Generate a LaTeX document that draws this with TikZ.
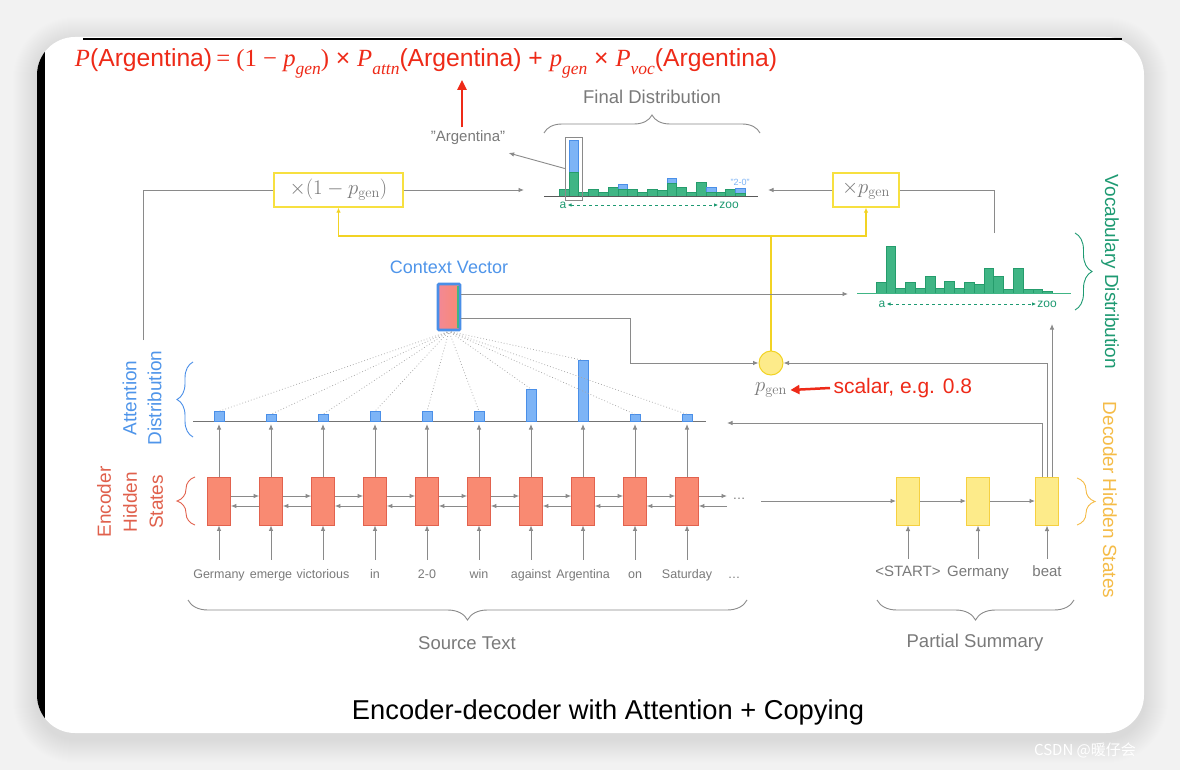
\documentclass[tikz,border=0pt]{standalone}
\usepackage[no-math]{fontspec}
\setmainfont{Liberation Sans}
\newfontfamily\tms{Liberation Serif}
\newfontfamily\cjkf{Noto Sans CJK SC}
\usetikzlibrary{arrows.meta,decorations.pathreplacing,calc}
\definecolor{bgc}{HTML}{F2F2F2}
\definecolor{lgray}{HTML}{8A8A8A}
\definecolor{tgray}{HTML}{7A7A7A}
\definecolor{cblue}{HTML}{4F95EA}
\definecolor{afill}{HTML}{7DB4F6}
\definecolor{abord}{HTML}{4A8FE8}
\definecolor{gfill}{HTML}{40B585}
\definecolor{gbord}{HTML}{259C6C}
\definecolor{gtext}{HTML}{1E9A72}
\definecolor{efill}{HTML}{F98A72}
\definecolor{ebord}{HTML}{E2624E}
\definecolor{etext}{HTML}{E0604C}
\definecolor{dfill}{HTML}{FDEB8A}
\definecolor{dbord}{HTML}{F6D040}
\definecolor{dtext}{HTML}{F5BC48}
\definecolor{yb}{HTML}{F7E040}
\definecolor{yl}{HTML}{F2D324}
\definecolor{fred}{HTML}{EE2A18}
\definecolor{pfill}{HTML}{EC86C0}
\newcommand\rsub[1]{\raisebox{-0.32em}{\fontsize{17}{17}\selectfont\tms\itshape #1}}
\newcommand\dq{\symbol{34}}
\begin{document}
\begin{tikzpicture}[x=1pt,y=-1pt,
 gline/.style={draw=lgray, line width=0.9pt},
 garr/.style={draw=lgray, line width=0.9pt, -{Latex[length=5.5pt,width=4.5pt]}},
 yarr/.style={draw=yl, line width=1.1pt, -{Latex[length=5pt,width=4.5pt]}},
 ebox/.style={draw=ebord, fill=efill, line width=0.7pt, minimum width=23pt, minimum height=48pt, inner sep=0pt},
 dbox/.style={draw=dbord, fill=dfill, line width=1pt, minimum width=23pt, minimum height=48pt, inner sep=0pt},
 ybox/.style={draw=yb, line width=1.3pt, fill=white, inner sep=0pt, minimum height=34pt},
 abar/.style={draw=abord, fill=afill, line width=0.7pt},
 gbar/.style={draw=gbord, fill=gfill, line width=0.5pt},
 bbar/.style={draw=abord, fill=afill, line width=0.5pt},
 word/.style={text=tgray, font=\fontsize{12.5}{14}\selectfont, inner sep=1pt, text height=9pt, text depth=3pt},
 dword/.style={text=tgray, font=\fontsize{15}{17}\selectfont, inner sep=1pt, text height=11pt, text depth=3.5pt},
 lab/.style={text=tgray, font=\fontsize{18.5}{22}\selectfont},
 brc/.style={decorate, decoration={brace, amplitude=#1}, line width=0.9pt},
 dotl/.style={draw=gray!70, line width=0.7pt, dash pattern=on 0.8pt off 2.2pt},
 axl/.style={draw=gtext, line width=0.8pt, dashed, {Latex[length=4pt,width=3.5pt]}-{Latex[length=4pt,width=3.5pt]}},
 small/.style={text=gtext, font=\fontsize{12}{12}\selectfont, inner sep=1pt}
 ]
\useasboundingbox (0,0) rectangle (1180,770);
\fill[bgc] (0,0) rectangle (1180,770);
\foreach \i in {1,...,24} {
  \pgfmathsetmacro\rr{38+\i}
  \fill[black, opacity=0.0035, rounded corners=\rr pt] (37-\i,37-\i+4) rectangle (1144+\i,733+\i+6);
}
\fill[white, rounded corners=38pt] (37,37) rectangle (1144,733);
\begin{scope}
  \clip[rounded corners=38pt] (37,37) rectangle (1144,733);
  \fill[black] (37,37) rectangle (45,722);
\end{scope}
\draw[black, line width=1.3pt] (83,39) -- (1122,39);

% formula
\node[text=fred, inner sep=2pt] (fml) at (426,63) {\resizebox{702pt}{!}{\fontsize{24}{28}\selectfont{\tms\itshape P}(Argentina)\,{\tms = (1 − }{\tms\itshape p}\rsub{gen}{\tms )} × {\tms\itshape P}\rsub{attn}(Argentina) + {\tms\itshape p}\rsub{gen} × {\tms\itshape P}\rsub{voc}(Argentina)}};
\node[text=tgray, font=\fontsize{15}{17}\selectfont] (argq) at (468,138) {\dq Argentina\dq};
\draw[fred, line width=2.6pt, -{Triangle[length=10pt,width=9pt]}] ([xshift=-6pt]argq.north) -- ([xshift=-6pt]argq.north |- fml.south);

% final distribution
\node[lab] (fdl) at (652,97) {Final Distribution};
\draw[brc=18pt, draw=lgray] (544,133) -- (760,133);
\foreach \gh/\bh [count=\i] in {7/0,24/56,4/0,7/0,4/0,9/0,7/12,7/0,4/0,7/0,6/0,13/18,9/0,4/0,14/0,4/9,4/0,7/0,3/8} {
  \pgfmathsetmacro\xa{559+9.8*(\i-1)}
  \pgfmathsetmacro\xb{\xa+9.8}
  \ifnum\bh>0 \draw[bbar] (\xa,196) rectangle (\xb,196-\bh); \fi
  \draw[gbar] (\xa,196) rectangle (\xb,196-\gh);
}
\draw[draw=black!65, line width=0.9pt] (544,196) -- (758,196);
\node[draw=lgray, line width=0.9pt, minimum width=17pt, minimum height=63pt, inner sep=0pt] (hl) at (573.7,168.5) {};
\draw[garr] (hl.west) -- ([yshift=-15pt]argq.east);
\node[text=afill, font=\fontsize{9}{10}\selectfont, inner sep=0pt] (tz) at (740,182) {\dq 2-0\dq};
\node[small] (fa) at (563,205) {a};
\node[small] (fz) at (729,205) {zoo};
\draw[axl] (fa.east) -- (fz.west);

% multiplier boxes
\node[ybox, minimum width=129pt] (omp) at (338.5,190) {\fontsize{20}{20}\selectfont\color{tgray}$\times(1-p_{\mathrm{gen}})$};
\node[ybox, minimum width=66pt] (mp) at (866,190) {\fontsize{20}{20}\selectfont\color{tgray}$\times p_{\mathrm{gen}}$};
\coordinate (attop) at (143,340);
\draw[gline] (attop) |- (omp.west);
\coordinate (fdin) at (524,190);
\draw[garr] (omp.east) -- (fdin);
\coordinate (fdinr) at (768,190);
\coordinate (vtop) at (994,233);
\draw[gline] (vtop) |- (mp.east);
\draw[garr] (mp.west) -- (fdinr);

% p_gen
\node[circle, draw=yl, fill=dfill, line width=1pt, minimum size=24pt, inner sep=0pt] (pg) at (771,363) {};
\coordinate (yj) at (771,236);
\draw[draw=yl, line width=1.1pt] (pg.north) -- (yj);
\draw[yarr] (yj) -| (omp.south);
\draw[yarr] (yj) -| (mp.south);
\node[text=tgray, font=\fontsize{20}{20}\selectfont] (pgl) at (771,390) {$p_{\mathrm{gen}}$};
\node[text=fred, font=\fontsize{21}{24}\selectfont, anchor=west] (sc) at (830,388) {scalar, e.g. 0.8};
\draw[fred, line width=2.5pt, -{Triangle[length=9pt,width=9pt]}] (sc.west) -- (pgl.east);

% vocabulary distribution
\foreach \hh [count=\i] in {11,47,5,11,5,17,5,12,5,11,9,25,17,4,25,4,4,2} {
  \pgfmathsetmacro\xa{876+9.8*(\i-1)}
  \pgfmathsetmacro\xb{\xa+9.8}
  \draw[gbar] (\xa,293) rectangle (\xb,293-\hh);
}
\draw[draw=gfill, line width=1pt] (857,293) -- (1071,293);
\node[small] (va) at (882,304) {a};
\node[small] (vz) at (1047,304) {zoo};
\draw[axl] (va.east) -- (vz.west);
\draw[brc=17pt, draw=gtext] (1075,233) -- (1075,310);
\node[text=gtext, font=\fontsize{19}{22}\selectfont, rotate=-90] (vdl) at (1110,272) {Vocabulary Distribution};

% context vector
\node[text=cblue, font=\fontsize{18}{20}\selectfont] (cvl) at (449,267) {Context Vector};
\node[draw=abord, line width=2.6pt, left color=efill!55!pfill, right color=efill, minimum width=22pt, minimum height=46pt, inner sep=0pt, rounded corners=1pt] (cv) at (449,307) {};
\fill[gfill] (456.5,286) rectangle (458.5,328);
\coordinate (vin) at (848,294);
\draw[garr] (cv.east |- vin) -- (vin);
\coordinate (cvb) at (630,318);
\draw[gline] (cv.east |- cvb) -- (cvb);
\draw[garr] (cvb) |- (pg.west);

% attention + encoder
\draw[draw=black!55, line width=0.9pt] (193,421) -- (706,421);
\foreach \wrd/\hh [count=\i] in {Germany/9.7, emerge/6.7, victorious/6.7, in/9.7, 2-0/9.7, win/9.7, against/32, Argentina/60.7, on/6.7, Saturday/6.7} {
  \pgfmathsetmacro\cx{219+52*(\i-1)}
  \node[ebox] (e\i) at (\cx,501) {};
  \node[word] (w\i) at (\cx,575) {\wrd};
  \draw[abar] (\cx-5,421) rectangle (\cx+5,421-\hh);
  \coordinate (a\i) at (\cx,421-\hh);
  \coordinate (b\i) at (\cx,424);
  \draw[garr] ([yshift=8pt]w\i.north) -- (e\i.south);
  \draw[garr] (e\i.north) -- (b\i);
}
\foreach \i in {1,...,10} \draw[dotl, shorten <=2pt] (cv.south) -- (a\i);
\foreach \i in {1,...,9} {
  \pgfmathtruncatemacro\j{\i+1}
  \draw[garr] ([yshift=5pt]e\i.east) -- ([yshift=5pt]e\j.west);
  \draw[garr] ([yshift=-5pt]e\j.west) -- ([yshift=-5pt]e\i.east);
}
\coordinate (eo) at (727,501);
\draw[garr] ([yshift=5pt]e10.east) -- ([yshift=5pt]eo);
\draw[garr] ([yshift=-5pt]eo) -- ([yshift=-5pt]e10.east);
\node[word] (wdots) at (734,575) {…};
\node[text=tgray, font=\fontsize{13}{14}\selectfont] (edots) at (739,499) {…};
\draw[brc=16pt, draw=abord] (193,437) -- (193,362);
\draw[brc=18pt, draw=ebord] (195,525) -- (195,477);
\node[text=cblue, font=\fontsize{19}{25}\selectfont, rotate=90, align=center] (adl) at (142,398) {Attention\\Distribution};
\node[text=etext, font=\fontsize{19}{26}\selectfont, rotate=90, align=center] (ehl) at (130,502) {Encoder\\Hidden\\States};

% decoder
\node[dbox] (d1) at (908,501) {};
\node[dbox] (d2) at (978,501) {};
\node[dbox] (d3) at (1047,501) {};
\node[dword] (dw1) at (908,573) {<START>};
\node[dword] (dw2) at (978,573) {Germany};
\node[dword] (dw3) at (1047,573) {beat};
\foreach \i in {1,2,3} \draw[garr] ([yshift=6pt]dw\i.north) -- (d\i.south);
\coordinate (ell) at (761,501);
\draw[garr] (ell) -- (d1.west);
\draw[garr] (d1.east) -- (d2.west);
\draw[garr] (d2.east) -- (d3.west);
\coordinate (atin) at (727,423);
\draw[garr] ([xshift=-5pt]d3.north) |- (atin);
\draw[garr] (d3.north) |- (pg.east);
\coordinate (vbot) at (1052,324);
\draw[garr] ([xshift=5pt]d3.north) -- (vbot);
\draw[brc=18pt, draw=dtext] (1077,478) -- (1077,525);
\node[text=dtext, font=\fontsize{19}{22}\selectfont, rotate=-90] (ddl) at (1110,500) {Decoder Hidden States};

% bottom braces
\draw[brc=20pt, draw=lgray] (747,600) -- (188,600);
\node[lab] (srcl) at (467,643) {Source Text};
\draw[brc=20pt, draw=lgray] (1074,600) -- (877,600);
\node[lab] (psl) at (975,643) {Partial Summary};

\node (ttl) at (608,712) {\resizebox{512pt}{!}{\fontsize{25}{30}\selectfont Encoder-decoder with Attention + Copying}};
\node[text=white, font=\cjkf\fontsize{15}{15}\selectfont] (wm) at (1085,750) {CSDN @暖仔会};
\end{tikzpicture}
\end{document}
